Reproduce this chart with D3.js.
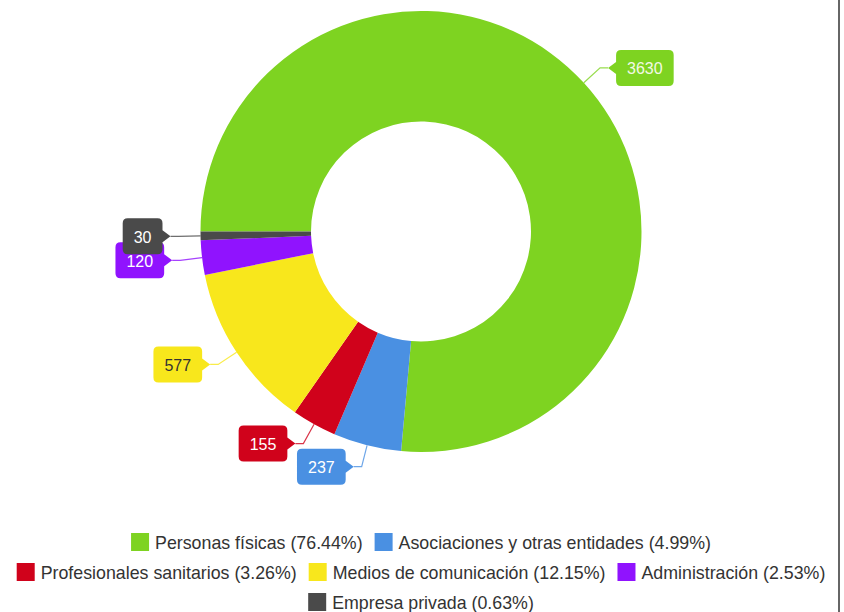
<!DOCTYPE html>
<html>
<head>
<meta charset="utf-8">
<script src="https://cdn.jsdelivr.net/npm/d3@7"></script>
<style>
  html, body { margin: 0; padding: 0; background: #fff; }
  svg { display: block; }
  text { font-family: "Liberation Sans", Arial, sans-serif; }
</style>
</head>
<body>
<svg id="chart" width="844" height="612"></svg>
<script>
const categories = ["Personas físicas", "Asociaciones y otras entidades", "Profesionales sanitarios", "Medios de comunicación", "Administración", "Empresa privada"];
const values = [3630, 237, 155, 577, 120, 30];
const percentLabels = ["76.44%", "4.99%", "3.26%", "12.15%", "2.53%", "0.63%"];
const colors = ["#7ED321", "#4A90E2", "#D0021B", "#F8E71C", "#9013FE", "#4A4A4A"];
const labelTextColors = ["#f2f9e4", "#ffffff", "#ffffff", "#333333", "#ffffff", "#ffffff"];

const svg = d3.select("#chart");
const W = 844, H = 612;
const cx = 421, cy = 231.5, R = 220.5, r = 110;

// right border
svg.append("line").attr("x1", 839).attr("x2", 839).attr("y1", 0).attr("y2", H)
  .attr("stroke", "#666").attr("stroke-width", 2);

const data = categories.map((c, i) => ({ name: c, value: values[i], pct: percentLabels[i], color: colors[i], tc: labelTextColors[i] }));

const pie = d3.pie().sort(null).value(d => d.value)
  .startAngle(-Math.PI / 2).endAngle(3 * Math.PI / 2);
const arcs = pie(data);
const arc = d3.arc().innerRadius(r).outerRadius(R);

const g = svg.append("g").attr("transform", `translate(${cx},${cy})`);
g.selectAll("path.slice").data(arcs).enter().append("path")
  .attr("class", "slice")
  .attr("d", arc)
  .attr("fill", d => d.data.color);

// callout labels
const labels = g.append("g");
arcs.forEach(a => {
  const mid = (a.startAngle + a.endAngle) / 2;
  const p0 = [Math.sin(mid) * R, -Math.cos(mid) * R];
  const p1 = [Math.sin(mid) * R * 1.1, -Math.cos(mid) * R * 1.1];
  const right = p1[0] > 0;
  const tipX = p1[0] + (right ? 8 : -8);
  labels.append("polyline")
    .attr("points", [p0, p1, [tipX, p1[1]]].map(p => p.join(",")).join(" "))
    .attr("fill", "none").attr("stroke", a.data.color).attr("stroke-width", 1.2).attr("opacity", 0.8);

  const lg = labels.append("g");
  const txt = lg.append("text").text(a.data.value)
    .attr("font-size", 16).attr("fill", a.data.tc)
    .attr("dominant-baseline", "central");
  const tw = txt.node().getComputedTextLength();
  const bw = tw + 22, bh = 36, pt = 8, ph = 6, cr = 5;
  const bodyEdge = right ? tipX + pt : tipX - pt;
  const x0 = right ? bodyEdge : bodyEdge - bw;
  const x1 = x0 + bw;
  const y0 = p1[1] - bh / 2, y1 = p1[1] + bh / 2, ym = p1[1];
  let path;
  if (right) {
    path = `M${x0},${y0 + cr} Q${x0},${y0} ${x0 + cr},${y0} L${x1 - cr},${y0} Q${x1},${y0} ${x1},${y0 + cr} L${x1},${y1 - cr} Q${x1},${y1} ${x1 - cr},${y1} L${x0 + cr},${y1} Q${x0},${y1} ${x0},${y1 - cr} L${x0},${ym + ph} L${tipX},${ym} L${x0},${ym - ph} Z`;
  } else {
    path = `M${x0},${y0 + cr} Q${x0},${y0} ${x0 + cr},${y0} L${x1 - cr},${y0} Q${x1},${y0} ${x1},${y0 + cr} L${x1},${ym - ph} L${tipX},${ym} L${x1},${ym + ph} L${x1},${y1 - cr} Q${x1},${y1} ${x1 - cr},${y1} L${x0 + cr},${y1} Q${x0},${y1} ${x0},${y1 - cr} Z`;
  }
  lg.insert("path", "text").attr("d", path).attr("fill", a.data.color);
  txt.attr("x", x0 + (bw - tw) / 2).attr("y", ym + 1);
});

// legend with flow layout
const legend = svg.append("g");
const sw = 18, gapSwatch = 6, gapItem = 12, maxW = 832, rowH = 30, firstRowY = 542;
const items = data.map(d => {
  const ig = legend.append("g");
  ig.append("rect").attr("width", sw).attr("height", sw).attr("y", -sw / 2).attr("fill", d.color);
  const t = ig.append("text").text(`${d.name} (${d.pct})`)
    .attr("x", sw + gapSwatch).attr("dominant-baseline", "central").attr("y", 1)
    .attr("font-size", 17.8).attr("fill", "#333");
  const w = sw + gapSwatch + t.node().getComputedTextLength();
  return { g: ig, w };
});
const rows = [];
let cur = [], curW = 0;
items.forEach(it => {
  const add = (cur.length ? gapItem : 0) + it.w;
  if (cur.length && curW + add > maxW) { rows.push({ items: cur, w: curW }); cur = [it]; curW = it.w; }
  else { cur.push(it); curW += add; }
});
if (cur.length) rows.push({ items: cur, w: curW });
rows.forEach((row, ri) => {
  let x = cx - row.w / 2;
  const y = firstRowY + ri * rowH;
  row.items.forEach(it => {
    it.g.attr("transform", `translate(${x},${y})`);
    x += it.w + gapItem;
  });
});
</script>
</body>
</html>
